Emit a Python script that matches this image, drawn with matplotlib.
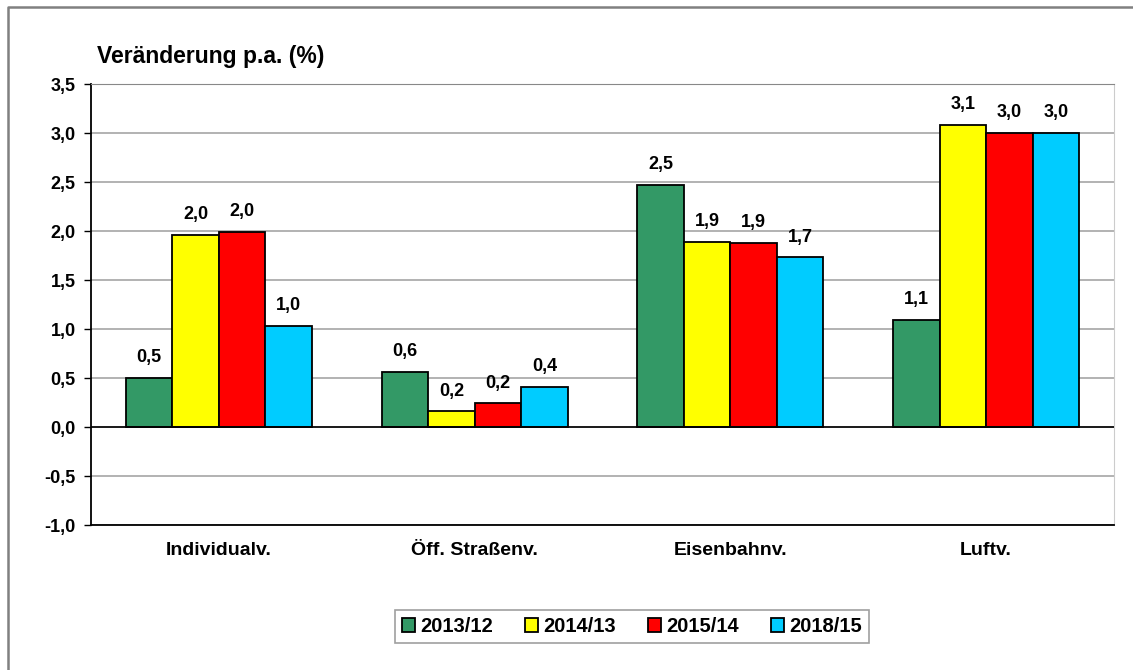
import numpy as np
import matplotlib
matplotlib.use('Agg')
import matplotlib.pyplot as plt
from matplotlib.lines import Line2D

plt.rcParams['font.family'] = ['Liberation Sans', 'DejaVu Sans']
plt.rcParams['font.weight'] = 'bold'

# Daten
categories = ['Individualv.', 'Öff. Straßenv.', 'Eisenbahnv.', 'Luftv.']
series = ['2013/12', '2014/13', '2015/14', '2018/15']
values_2013_12 = [0.50, 0.56, 2.47, 1.09]
values_2014_13 = [1.96, 0.16, 1.89, 3.08]
values_2015_14 = [1.99, 0.24, 1.88, 3.00]
values_2018_15 = [1.03, 0.41, 1.73, 3.00]
colors = ['#339966', '#FFFF00', '#FF0000', '#00CCFF']
y_ticks = [-1.0, -0.5, 0.0, 0.5, 1.0, 1.5, 2.0, 2.5, 3.0, 3.5]

all_values = [values_2013_12, values_2014_13, values_2015_14, values_2018_15]

fig = plt.figure(figsize=(11.33, 6.70), dpi=100)
ax = fig.add_axes([0.0803, 0.2164, 0.9029, 0.6582])

x = np.arange(len(categories))
width = 0.182
for i, (name, vals, col) in enumerate(zip(series, all_values, colors)):
    pos = x + (i - 1.5) * width
    bars = ax.bar(pos, vals, width, color=col, edgecolor='black', linewidth=1.3,
                  label=name, zorder=3)
    for b, v in zip(bars, vals):
        ax.annotate(f'{v:.1f}'.replace('.', ','), (b.get_x() + b.get_width() / 2, v),
                    xytext=(0, 8.5), textcoords='offset points', ha='center', va='bottom',
                    fontsize=13, fontweight='bold')

ax.set_xlim(-0.5, 3.5)
ax.set_ylim(-1.0, 3.5)
ax.set_yticks(y_ticks)
ax.set_yticklabels([f'{t:.1f}'.replace('.', ',') for t in y_ticks], fontsize=13, fontweight='bold')
ax.set_xticks(x)
ax.set_xticklabels(categories, fontsize=14, fontweight='bold')
ax.tick_params(axis='x', length=0, pad=12)
ax.tick_params(axis='y', length=5, width=1, direction='out', pad=6)

ax.yaxis.grid(True, color='#A6A6A6', linewidth=1.2, zorder=0)
ax.set_axisbelow(True)
ax.axhline(0, color='black', linewidth=1.2, zorder=4)

ax.spines['left'].set_color('black')
ax.spines['left'].set_linewidth(1.3)
ax.spines['bottom'].set_color('black')
ax.spines['bottom'].set_linewidth(1.3)
ax.spines['top'].set_color('#888888')
ax.spines['right'].set_color('#CCCCCC')

fig.text(0.0856, 0.915, 'Veränderung p.a. (%)', fontsize=16.5, fontweight='bold',
         ha='left', va='center')

leg = ax.legend(loc='center', bbox_to_anchor=(0.5575, 0.065), bbox_transform=fig.transFigure,
                ncol=4, frameon=True, fancybox=False, fontsize=14.5, handlelength=0.65,
                handleheight=0.65, columnspacing=1.6, handletextpad=0.25, borderpad=0.35)
leg.get_frame().set_edgecolor('#888888')
leg.get_frame().set_linewidth(1.2)
for t in leg.get_texts():
    t.set_fontweight('bold')

# aeusserer Rahmen (nur oben und links sichtbar)
fig.add_artist(Line2D([0.0071, 0.0071, 1.0], [0.0, 0.9896, 0.9896],
                      transform=fig.transFigure, color='#808080', linewidth=1.8))

fig.savefig('out.png', dpi=100)
